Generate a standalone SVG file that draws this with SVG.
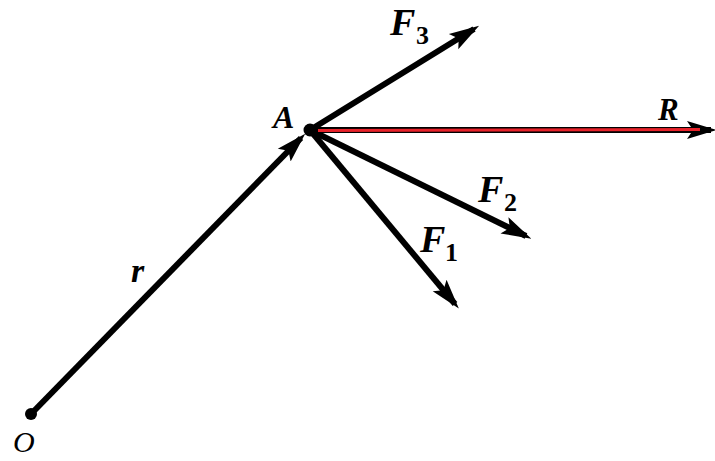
<svg xmlns="http://www.w3.org/2000/svg" width="715" height="461" viewBox="0 0 715 461">
<style>
.v{stroke:#000;stroke-width:6;fill:none;stroke-linecap:butt}
.lb{font-family:"Liberation Serif",serif;font-style:italic;font-weight:bold;fill:#000}
.sub{font-family:"Liberation Serif",serif;font-weight:bold;fill:#000}
</style>
<defs>
<marker id="ah" viewBox="0 0 10 10" refX="8" refY="5" markerWidth="5" markerHeight="5" markerUnits="strokeWidth" orient="auto">
<path d="M0,2 L10,5 L0,8 L2,5 Z" fill="#000"/>
</marker>
</defs>
<rect width="715" height="461" fill="#fff"/>
<g id="connectors">
<line class="v" x1="31" y1="414" x2="301" y2="138" marker-end="url(#ah)"/>
<line class="v" x1="310" y1="130" x2="474" y2="29" marker-end="url(#ah)"/>
<line class="v" x1="310" y1="130" x2="526" y2="236" marker-end="url(#ah)"/>
<line class="v" x1="310" y1="130" x2="455" y2="304" marker-end="url(#ah)"/>
<line class="v" x1="310" y1="130" x2="711" y2="130" marker-end="url(#ah)"/>
<line x1="318" y1="130.5" x2="700" y2="129.5" stroke="#e8222a" stroke-width="3"/>
</g>
<g id="O"><circle cx="31" cy="414" r="6" fill="#000"/><text x="13" y="452" font-family="Liberation Serif,serif" font-style="italic" font-size="30" fill="#000">O</text></g>
<g id="A"><circle cx="310" cy="130" r="6.5" fill="#000"/><text class="lb" x="273" y="128" font-size="32">A</text></g>
<g id="r"><text class="lb" x="131" y="282" font-size="34">r</text></g>
<g id="F3"><text class="lb" x="390" y="35" font-size="38">F</text><text class="sub" x="416" y="44" font-size="26">3</text></g>
<g id="R"><text class="lb" x="658" y="120" font-size="31">R</text></g>
<g id="F2"><text class="lb" x="478" y="202" font-size="38">F</text><text class="sub" x="504" y="211" font-size="26">2</text></g>
<g id="F1"><text class="lb" x="420" y="252" font-size="38">F</text><text class="sub" x="445" y="261" font-size="26">1</text></g>
</svg>
